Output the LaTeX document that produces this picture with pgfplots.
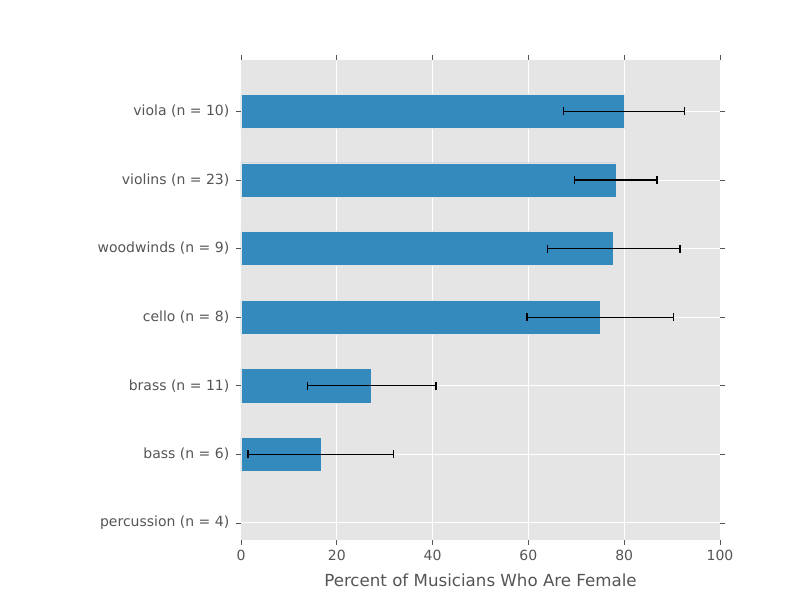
\documentclass[border=0pt]{standalone}
\usepackage{pgfplots}
\pgfplotsset{compat=1.18}
\usepackage{fontspec}
\setmainfont{DejaVu Sans}
\definecolor{barblue}{HTML}{348ABD}
\definecolor{bggray}{HTML}{E5E5E5}
\definecolor{txtgray}{HTML}{555555}
\begin{document}
\begin{tikzpicture}
\path[use as bounding box] (-180.75pt,-45pt) rectangle (419.25pt,405pt);
\begin{axis}[
  scale only axis,
  width=359.25pt, height=360pt,
  xmin=0, xmax=100,
  ymin=-0.25, ymax=6.75,
  xtick={0,20,40,60,80,100},
  ytick={0,1,2,3,4,5,6},
  yticklabels={percussion (n = 4),bass (n = 6),brass (n = 11),cello (n = 8),woodwinds (n = 9),violins (n = 23),viola (n = 10)},
  /pgf/number format/assume math mode=true,
  ticklabel style={font=\fontsize{10.5}{12}\selectfont, text=txtgray},
  yticklabel style={xshift=-1.5pt},
  xlabel={Percent of Musicians Who Are Female},
  xlabel style={font=\fontsize{12.5}{14}\selectfont, text=txtgray, yshift=-3pt},
  axis background/.style={fill=bggray},
  axis line style={draw=none},
  tick align=outside,
  xtick pos=both, ytick pos=both,
  major tick length=3.75pt,
  tick style={color=txtgray, line width=0.5pt},
  grid=major,
  major grid style={white, line width=0.75pt},
  axis on top=false,
  xbar, bar width=0.5,
]
\addplot[fill=barblue, draw=bggray, line width=0.4pt,
  error bars/.cd, x dir=both, x explicit,
  error mark options={black, line width=0.9pt, mark size=3pt, rotate=90},
  error bar style={black, line width=0.9pt}]
coordinates {
  (16.67,1) +- (15.21,0)
  (27.27,2) +- (13.43,0)
  (75.00,3) +- (15.31,0)
  (77.78,4) +- (13.86,0)
  (78.26,5) +- (8.60,0)
  (80.00,6) +- (12.65,0)
};
\end{axis}
\end{tikzpicture}
\end{document}
